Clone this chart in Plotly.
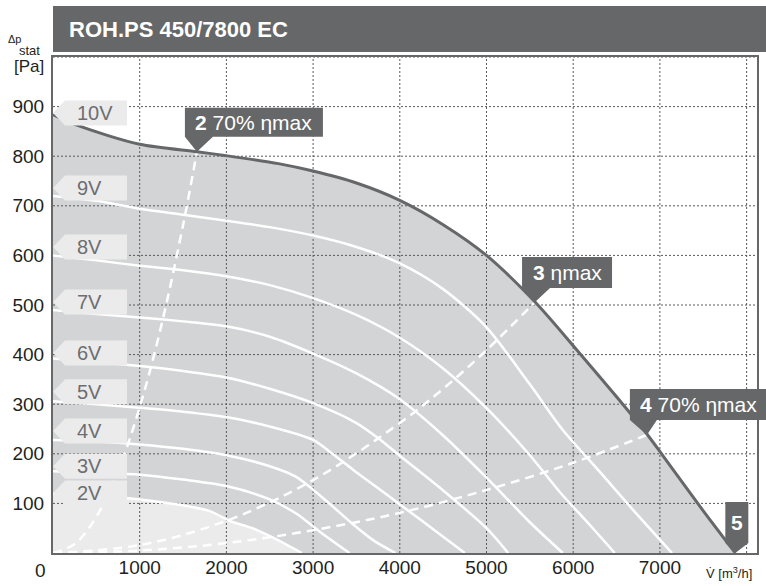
import plotly.graph_objects as go

# ---------------- data ----------------
v10_x = [0, 300, 1000, 1660, 2000, 2600, 3000, 3500, 4000, 4500, 5000, 5560, 6000, 6500, 6850, 7040, 7500, 7870]
v10_y = [884, 861, 824, 809, 801, 785, 770, 746, 711, 662, 600, 506, 418, 315, 240, 195, 85, 0]

v9_x = [0, 500, 1000, 1500, 2000, 2500, 3000, 3500, 4000, 4500, 5000, 5500, 5880, 6300, 6700, 7140]
v9_y = [720, 710, 694, 682, 670, 657, 640, 617, 584, 532, 455, 340, 248, 165, 85, 0]

v8_x = [0, 500, 1000, 1500, 2000, 2500, 3000, 3500, 4000, 4500, 5000, 5500, 5850, 6200, 6480]
v8_y = [600, 590, 579, 570, 558, 540, 514, 480, 434, 372, 292, 197, 122, 55, 0]

v7_x = [0, 500, 1000, 1500, 2000, 2500, 3000, 3500, 4000, 4500, 5000, 5500, 5880]
v7_y = [490, 482, 475, 467, 457, 436, 402, 362, 310, 237, 152, 62, 0]

v6_x = [0, 500, 1000, 1500, 2000, 2500, 3000, 3500, 3770, 4000, 4500, 5000, 5250]
v6_y = [392, 385, 377, 367, 354, 331, 302, 262, 229, 196, 126, 50, 0]

v5_x = [0, 500, 1000, 1500, 2000, 2500, 3000, 3230, 3460, 3770, 4000, 4500, 4750]
v5_y = [306, 300, 293, 285, 274, 255, 228, 199, 168, 128, 98, 33, 0]

v4_x = [0, 500, 1000, 1500, 2000, 2500, 2800, 3100, 3460, 3700, 3950]
v4_y = [228, 225, 219, 210, 197, 175, 154, 113, 58, 25, 0]

v3_x = [0, 500, 1000, 1500, 2000, 2500, 2800, 3100, 3420]
v3_y = [165, 162, 158, 148, 135, 108, 80, 40, 0]

v2_x = [0, 500, 1000, 1350, 1800, 2050, 2300, 2550, 2870]
v2_y = [120, 116, 108, 100, 85, 64, 50, 30, 0]

# system (efficiency) lines, dashed
sys70a_x = [0, 250, 500, 750, 1000, 1250, 1500, 1660]
sys70a_y = [0, 18, 73, 165, 294, 459, 661, 809]
sysmax_x = [0, 1000, 2000, 3000, 4000, 4500, 5000, 5560]
sysmax_y = [0, 16, 65, 147, 262, 331, 409, 506]
sys70b_x = [0, 1000, 2000, 3000, 4000, 5000, 6000, 6850]
sys70b_y = [0, 5, 20, 46, 81, 127, 182, 238]

volt_names = ["10V", "9V", "8V", "7V", "6V", "5V", "4V", "3V", "2V"]
volt_label_y = [887, 736, 617, 506, 403, 325, 246, 175, 121]

x_ticks = [1000, 2000, 3000, 4000, 5000, 6000, 7000]
y_ticks = [100, 200, 300, 400, 500, 600, 700, 800, 900]
x_grid = [1000, 2000, 3000, 4000, 5000, 6000, 7000, 8000]
y_grid = [100, 200, 300, 400, 500, 600, 700, 800, 900, 1000]

point_names = ["<b>2</b> 70% ηmax", "<b>3</b> ηmax", "<b>4</b> 70% ηmax", "<b>5</b>"]
point_x = [1660, 5560, 6850, 7870]
point_y = [809, 506, 238, 0]

title = "ROH.PS 450/7800 EC"

# ---------------- styling ----------------
XMAX, YMAX = 8120, 1000
ML, MR, MT, MB = 53, 9, 57, 33
W, H = 766, 586
PW, PH = W - ML - MR, H - MT - MB

DARK = "#666769"
FILL = "#d3d4d5"
LIGHT = "#ebebec"
LABEL_TXT = "#6d6e71"
TXT = "#231f20"
FONT = "Liberation Sans, Arial, sans-serif"
SPL = dict(shape="spline", smoothing=0.8)


def pxx(p):
    return (p - ML) / PW


def pxy(p):
    return (H - MB - p) / PH


fig = go.Figure()

# gray area under max curve
fig.add_trace(go.Scatter(x=v10_x, y=v10_y, fill="tozeroy", fillcolor=FILL,
                         line=dict(width=0, **SPL), mode="lines", hoverinfo="skip"))
# light area under 2V
fig.add_trace(go.Scatter(x=v2_x, y=v2_y, fill="tozeroy", fillcolor=LIGHT,
                         line=dict(width=0, **SPL), mode="lines", hoverinfo="skip"))

# dotted grid drawn above the fills
gx, gy = [], []
for v in x_grid:
    gx += [v, v, None]
    gy += [0, YMAX, None]
for v in y_grid:
    gx += [0, XMAX, None]
    gy += [v, v, None]
fig.add_trace(go.Scatter(x=gx, y=gy, mode="lines",
                         line=dict(color="#58595b", width=1, dash="2px,2px"),
                         hoverinfo="skip"))

# white voltage curves
for cx, cy in [(v9_x, v9_y), (v8_x, v8_y), (v7_x, v7_y), (v6_x, v6_y),
               (v5_x, v5_y), (v4_x, v4_y), (v3_x, v3_y), (v2_x, v2_y)]:
    fig.add_trace(go.Scatter(x=cx, y=cy, mode="lines",
                             line=dict(color="white", width=2.5, **SPL),
                             hoverinfo="skip"))

# dashed efficiency lines
for cx, cy in [(sys70a_x, sys70a_y), (sysmax_x, sysmax_y), (sys70b_x, sys70b_y)]:
    fig.add_trace(go.Scatter(x=cx, y=cy, mode="lines",
                             line=dict(color="white", width=2.5, dash="9px,6px", shape="spline"),
                             hoverinfo="skip"))

# max curve
fig.add_trace(go.Scatter(x=v10_x, y=v10_y, mode="lines",
                         line=dict(color=DARK, width=3, **SPL),
                         hoverinfo="skip"))

shapes = []
annotations = []

# title bar
shapes.append(dict(type="rect", xref="paper", yref="paper", x0=0, x1=pxx(770),
                   y0=pxy(52), y1=pxy(6), fillcolor=DARK, line=dict(width=0), layer="above"))
annotations.append(dict(xref="paper", yref="paper", x=pxx(67), y=pxy(29), xanchor="left",
                        yanchor="middle", showarrow=False, text="<b>" + title + "</b>",
                        font=dict(family="Liberation Sans Narrow, Liberation Sans, Arial, sans-serif",
                                  size=22, color="white")))

# voltage labels
for name, ly in zip(volt_names, volt_label_y):
    shapes.append(dict(type="path", xref="paper", yref="paper", xsizemode="pixel", ysizemode="pixel",
                       xanchor=0, yanchor=ly / YMAX,
                       path="M0,0 L12,12.5 L74,12.5 L74,-12.5 L12,-12.5 Z",
                       fillcolor=LIGHT, line=dict(width=0), layer="above"))
    annotations.append(dict(xref="paper", yref="y", x=0, y=ly, xanchor="left", yanchor="middle",
                            xshift=22, showarrow=False, text=name,
                            font=dict(family=FONT, size=20, color=LABEL_TXT)))

# dark callouts
callout_paths = [
    "M0,0 L-12,15 L-12,44 L126,44 L126,15 L16,15 Z",
    "M0,0 L-13,14 L-13,45 L77,45 L77,14 L15,14 Z",
    "M0,0 L-17,15 L-17,46 L122,46 L122,15 L10,15 Z",
    "M0,0 L-10,10 L-10,51 L13,51 L13,10 Z",
]
callout_text_shift = [(57, 29.5), (32, 29.5), (52, 30.5), (1.5, 31)]
for name, px_, py_, path, (dx, dy) in zip(point_names, point_x, point_y, callout_paths, callout_text_shift):
    shapes.append(dict(type="path", xref="paper", yref="paper", xsizemode="pixel", ysizemode="pixel",
                       xanchor=px_ / XMAX, yanchor=py_ / YMAX, path=path,
                       fillcolor=DARK, line=dict(width=0), layer="above"))
    annotations.append(dict(xref="x", yref="y", x=px_, y=py_, xshift=dx, yshift=dy,
                            xanchor="center", yanchor="middle", showarrow=False, text=name,
                            font=dict(family=FONT, size=21, color="white")))

# axis titles and origin label
annotations.append(dict(xref="paper", yref="paper", x=pxx(6), y=pxy(39), xanchor="left",
                        yanchor="middle", showarrow=False, text="Δp",
                        font=dict(family=FONT, size=11, color=TXT)))
annotations.append(dict(xref="paper", yref="paper", x=pxx(17), y=pxy(51), xanchor="left",
                        yanchor="middle", showarrow=False, text="stat",
                        font=dict(family=FONT, size=13, color=TXT)))
annotations.append(dict(xref="paper", yref="paper", x=pxx(29), y=pxy(66), xanchor="center",
                        yanchor="middle", showarrow=False, text="[Pa]",
                        font=dict(family=FONT, size=17, color=TXT)))
annotations.append(dict(xref="paper", yref="paper", x=pxx(729), y=pxy(573), xanchor="center",
                        yanchor="middle", showarrow=False, text="V̇ [m<sup>3</sup>/h]",
                        font=dict(family=FONT, size=13, color=TXT)))
annotations.append(dict(xref="paper", yref="paper", x=pxx(40), y=pxy(570), xanchor="center",
                        yanchor="middle", showarrow=False, text="0",
                        font=dict(family=FONT, size=19, color=TXT)))

fig.update_layout(
    width=W, height=H,
    margin=dict(l=ML, r=MR, t=MT, b=MB, pad=0),
    paper_bgcolor="white", plot_bgcolor="white",
    showlegend=False,
    shapes=shapes, annotations=annotations,
    xaxis=dict(range=[0, XMAX], tickvals=x_ticks, ticktext=[str(v) for v in x_ticks],
               showgrid=False, zeroline=False, showline=True, linecolor=DARK, linewidth=2,
               mirror=True, ticks="", ticklabelstandoff=-4, automargin=False,
               tickfont=dict(family=FONT, size=19, color=TXT), fixedrange=True),
    yaxis=dict(range=[0, YMAX], tickvals=y_ticks, ticktext=[str(v) for v in y_ticks],
               showgrid=False, zeroline=False, showline=True, linecolor=DARK, linewidth=2,
               mirror=True, ticks="", ticklabelstandoff=3, automargin=False,
               tickfont=dict(family=FONT, size=19, color=TXT), fixedrange=True),
)

fig.write_html(
    "out.html",
    config={"displayModeBar": False},
    post_script="document.body.style.margin='0px';document.body.style.overflow='hidden';",
)
